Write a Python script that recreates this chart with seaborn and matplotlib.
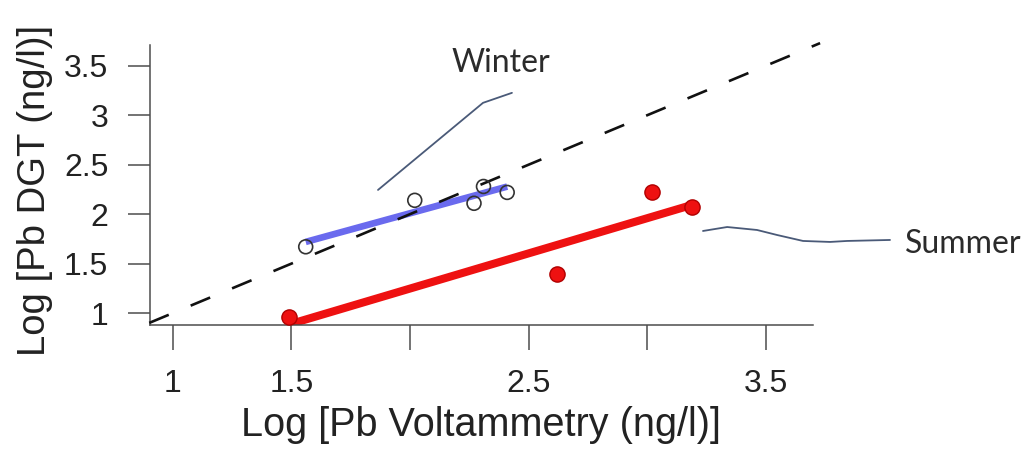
import matplotlib
matplotlib.use("Agg")
import matplotlib.pyplot as plt
import numpy as np
import pandas as pd
import seaborn as sns

# Winter campaign: log Pb by voltammetry vs log Pb by DGT
winter_volt = [1.56, 2.02, 2.27, 2.31, 2.41]
winter_dgt = [1.67, 2.14, 2.11, 2.28, 2.22]

# Summer campaign
summer_volt = [1.49, 2.62, 3.02, 3.19]
summer_dgt = [0.96, 1.39, 2.22, 2.07]

# 1:1 reference line
one_to_one = [0.90, 3.73]

# Leader lines from the season labels to their series
winter_leader_x = [1.865, 2.308, 2.430]
winter_leader_y = [2.245, 3.126, 3.227]
summer_leader_x = [3.236, 3.338, 3.464, 3.549, 3.658, 3.772, 3.844, 4.025]
summer_leader_y = [1.830, 1.870, 1.840, 1.789, 1.729, 1.719, 1.729, 1.739]

x_ticks = [1, 1.5, 2, 2.5, 3, 3.5]
x_tick_labels = ["1", "1.5", "", "2.5", "", "3.5"]
y_ticks = [1, 1.5, 2, 2.5, 3, 3.5]
y_tick_labels = ["1", "1.5", "2", "2.5", "3", "3.5"]

winter = pd.DataFrame({"volt": winter_volt, "dgt": winter_dgt})
summer = pd.DataFrame({"volt": summer_volt, "dgt": summer_dgt})

sns.set_style("white")
plt.rcParams["font.family"] = ["Liberation Sans", "DejaVu Sans"]

fig = plt.figure(figsize=(10.3, 4.51), dpi=100)
ax = fig.add_axes([0.1456, 0.2794, 0.6437, 0.6206])

axis_grey = "#4d4d4d"

# 1:1 line
ax.plot(one_to_one, one_to_one, color="#111111", lw=1.9,
        dashes=(8, 9), clip_on=False, zorder=3.5)

# Summer: filled red points with a fitted line
sns.regplot(data=summer, x="volt", y="dgt", ax=ax, ci=None,
            color="#ee1111",
            scatter_kws=dict(s=120, facecolor="#ee1111", edgecolor="#b00000",
                             linewidths=1.0, alpha=1, zorder=3,
                             clip_on=False),
            line_kws=dict(lw=5.8, color="#ee1111", zorder=2,
                          solid_capstyle="butt"))

# Winter: open circles with a fitted line
sns.regplot(data=winter, x="volt", y="dgt", ax=ax, ci=None,
            color="#6a6aee",
            scatter_kws=dict(s=100, facecolor="none", edgecolor="#333333",
                             linewidths=1.2, alpha=1, zorder=4),
            line_kws=dict(lw=4.8, color="#6a6aee", zorder=3,
                          solid_capstyle="butt"))

# Season labels and leader lines
ax.plot(winter_leader_x, winter_leader_y, color="#4a5a78", lw=1.3,
        clip_on=False, zorder=2)
ax.plot(summer_leader_x, summer_leader_y, color="#4a5a78", lw=1.3,
        clip_on=False, zorder=2)
fig.text(501 / 1030, 1 - 63 / 451, "Winter", ha="center", va="center",
         fontsize=23, color="#2b2b2b", family=["Lato", "DejaVu Sans"])
fig.text(905 / 1030, 1 - 244 / 451, "Summer", ha="left", va="center",
         fontsize=23, color="#2b2b2b", family=["Lato", "DejaVu Sans"])

ax.set_xlim(0.903, 3.70)
ax.set_ylim(0.879, 3.71)
ax.set_xticks(x_ticks)
ax.set_xticklabels(x_tick_labels)
ax.set_yticks(y_ticks)
ax.set_yticklabels(y_tick_labels)

ax.tick_params(axis="x", bottom=True, direction="out", length=18, width=1.1,
               color=axis_grey, labelsize=23, pad=14, labelcolor="#222222")
ax.tick_params(axis="y", left=True, direction="out", length=16, width=1.1,
               color=axis_grey, labelsize=23, pad=14, labelcolor="#222222")

sns.despine(ax=ax)
for side in ("left", "bottom"):
    ax.spines[side].set_color(axis_grey)
    ax.spines[side].set_linewidth(1.1)

ax.set_xlabel("Log [Pb Voltammetry (ng/l)]", fontsize=28.5, color="#222222")
ax.set_ylabel("Log [Pb DGT (ng/l)]", fontsize=27.5, color="#222222")
ax.xaxis.set_label_coords((481 - 150) / 663, (325 - 425) / 280)
ax.yaxis.set_label_coords((35 - 150) / 663, (325 - 190) / 280)
ax.xaxis.label.set_va("center")
ax.yaxis.label.set_va("center")

fig.savefig("out.png", dpi=100)
